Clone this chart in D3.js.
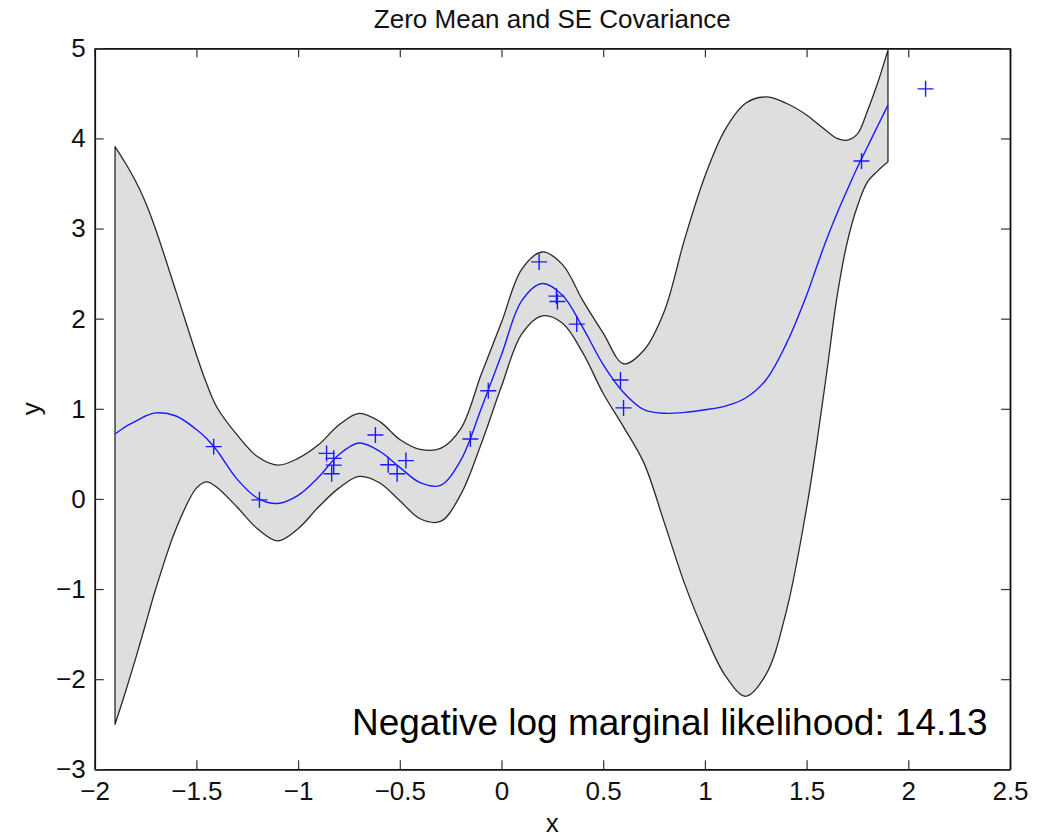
<!DOCTYPE html>
<html>
<head>
<meta charset="utf-8">
<script src="https://cdn.jsdelivr.net/npm/d3@7"></script>
<style>
  html, body { margin: 0; padding: 0; background: #fff; }
  svg { display: block; font-family: "Liberation Sans", Arial, sans-serif; }
</style>
</head>
<body>
<svg id="chart" width="1040" height="837"></svg>
<script>
// Prediction grid and GP posterior (mean and +/- 2 sd band)
const gridX = [-1.9, -1.85, -1.8, -1.75, -1.7, -1.6, -1.5, -1.45, -1.4, -1.3, -1.2, -1.1, -1.0, -0.9, -0.8, -0.7, -0.6, -0.5, -0.4, -0.3, -0.2, -0.1,
  0.0, 0.1, 0.2, 0.3, 0.4, 0.5, 0.6, 0.7, 0.8, 0.9, 1.0, 1.1, 1.2, 1.3, 1.4, 1.5, 1.55, 1.6, 1.65, 1.7, 1.75, 1.8, 1.85, 1.9];
const meanY = [0.72, 0.80, 0.86, 0.92, 0.955, 0.92, 0.77, 0.67, 0.54, 0.22, 0.01, -0.05, 0.04, 0.24, 0.49, 0.62, 0.53, 0.35, 0.18, 0.15, 0.43, 1.0,
  1.60, 2.20, 2.39, 2.26, 1.90, 1.49, 1.18, 0.99, 0.95, 0.96, 0.99, 1.03, 1.12, 1.32, 1.72, 2.26, 2.58, 2.89, 3.17, 3.43, 3.68, 3.91, 4.14, 4.37];
const upperY = [3.91, 3.73, 3.53, 3.29, 2.99, 2.30, 1.60, 1.28, 1.02, 0.71, 0.47, 0.375, 0.45, 0.60, 0.82, 0.95, 0.86, 0.66, 0.55, 0.56, 0.78, 1.38,
  1.96, 2.55, 2.74, 2.60, 2.20, 1.84, 1.50, 1.65, 2.08, 2.88, 3.58, 4.10, 4.39, 4.46, 4.39, 4.26, 4.17, 4.08, 4.00, 3.98, 4.05, 4.31, 4.62, 4.98];
const lowerY = [-2.50, -2.15, -1.78, -1.39, -1.00, -0.33, 0.12, 0.19, 0.13, -0.09, -0.33, -0.465, -0.33, -0.09, 0.12, 0.25, 0.18, -0.02, -0.22, -0.25, 0.05, 0.61,
  1.25, 1.83, 2.03, 1.95, 1.62, 1.17, 0.80, 0.40, -0.26, -0.94, -1.50, -1.96, -2.19, -1.95, -1.25, -0.10, 0.62, 1.42, 2.25, 2.85, 3.25, 3.52, 3.64, 3.74];

// Training observations
const pointX = [-1.415, -1.19, -0.86, -0.825, -0.825, -0.835, -0.62, -0.557, -0.513, -0.47, -0.153, -0.065, 0.185, 0.27, 0.275, 0.37, 0.585, 0.60, 1.77, 2.085];
const pointY = [0.58, -0.01, 0.505, 0.45, 0.375, 0.28, 0.71, 0.38, 0.28, 0.425, 0.665, 1.20, 2.63, 2.25, 2.19, 1.94, 1.32, 1.01, 3.75, 4.55];

// Axis ticks and labels
const xTicks = [-2, -1.5, -1, -0.5, 0, 0.5, 1, 1.5, 2, 2.5];
const yTicks = [-3, -2, -1, 0, 1, 2, 3, 4, 5];
const titleText = "Zero Mean and SE Covariance";
const xLabel = "x";
const yLabel = "y";
const nlml = 14.13;

const margin = { left: 94.7, top: 48.3, right: 1040 - 1010, bottom: 837 - 769.3 };
const W = 1040, H = 837;
const iw = W - margin.left - margin.right;
const ih = H - margin.top - margin.bottom;

const svg = d3.select("#chart");
const g = svg.append("g").attr("transform", `translate(${margin.left},${margin.top})`);

const x = d3.scaleLinear().domain([-2, 2.5]).range([0, iw]);
const y = d3.scaleLinear().domain([-3, 5]).range([ih, 0]);

const fmt = v => d3.format("")(v).replace("-", "\u2212");

// Confidence band
const band = gridX.map((xv, i) => ({ x: xv, lo: lowerY[i], hi: upperY[i], m: meanY[i] }));
const area = d3.area()
  .x(d => x(d.x))
  .y0(d => y(d.lo))
  .y1(d => y(d.hi))
  .curve(d3.curveCatmullRom.alpha(0.5));
g.append("path")
  .datum(band)
  .attr("d", area)
  .attr("fill", "#dedede")
  .attr("stroke", "#2a2a2a")
  .attr("stroke-width", 1.3)
  .attr("stroke-linejoin", "round");

// Predictive mean
const line = d3.line()
  .x(d => x(d.x))
  .y(d => y(d.m))
  .curve(d3.curveCatmullRom.alpha(0.5));
g.append("path")
  .datum(band)
  .attr("d", line)
  .attr("fill", "none")
  .attr("stroke", "#1a1aff")
  .attr("stroke-width", 1.4);

// Observations as plus markers
const pts = pointX.map((xv, i) => ({ x: xv, y: pointY[i] }));
const arm = 8;
g.append("g").selectAll("path").data(pts).join("path")
  .attr("d", d => {
    const cx = x(d.x), cy = y(d.y);
    return `M${cx - arm},${cy}H${cx + arm}M${cx},${cy - arm}V${cy + arm}`;
  })
  .attr("stroke", "#1a1aff")
  .attr("stroke-width", 1.4)
  .attr("fill", "none");

// Axes: ticks point inward on all four sides
const axStyle = sel => {
  sel.selectAll(".domain").attr("stroke", "#111").attr("stroke-width", 1.8);
  sel.selectAll(".tick line").attr("stroke", "#333").attr("stroke-width", 1.2);
  sel.selectAll(".tick text").attr("fill", "#111").style("font-size", "26px")
    .style("font-family", '"Liberation Sans", Arial, sans-serif');
};

g.append("g").attr("transform", `translate(0,${ih})`)
  .call(d3.axisBottom(x).tickValues(xTicks).tickFormat(fmt).tickSizeInner(-9).tickSizeOuter(0).tickPadding(12))
  .call(axStyle);
g.append("g")
  .call(d3.axisTop(x).tickValues(xTicks).tickFormat("").tickSizeInner(-9).tickSizeOuter(0))
  .call(axStyle);
g.append("g")
  .call(d3.axisLeft(y).tickValues(yTicks).tickFormat(fmt).tickSizeInner(-9).tickSizeOuter(0).tickPadding(9))
  .call(axStyle);
g.append("g").attr("transform", `translate(${iw},0)`)
  .call(d3.axisRight(y).tickValues(yTicks).tickFormat("").tickSizeInner(-9).tickSizeOuter(0))
  .call(axStyle);

// Title and axis labels
svg.append("text")
  .attr("x", margin.left + iw / 2).attr("y", 28)
  .attr("text-anchor", "middle")
  .style("font-size", "26px").attr("fill", "#111")
  .text(titleText);

svg.append("text")
  .attr("x", margin.left + iw / 2).attr("y", 832)
  .attr("text-anchor", "middle")
  .style("font-size", "26px").attr("fill", "#111")
  .text(xLabel);

svg.append("text")
  .attr("transform", `translate(40,${margin.top + ih / 2}) rotate(-90)`)
  .attr("text-anchor", "middle")
  .style("font-size", "26px").attr("fill", "#111")
  .text(yLabel);

// Likelihood annotation
g.append("text")
  .attr("x", x(-0.735)).attr("y", y(-2.62))
  .style("font-size", "37px").attr("fill", "#000")
  .text(`Negative log marginal likelihood: ${nlml.toFixed(2)}`);
</script>
</body>
</html>
